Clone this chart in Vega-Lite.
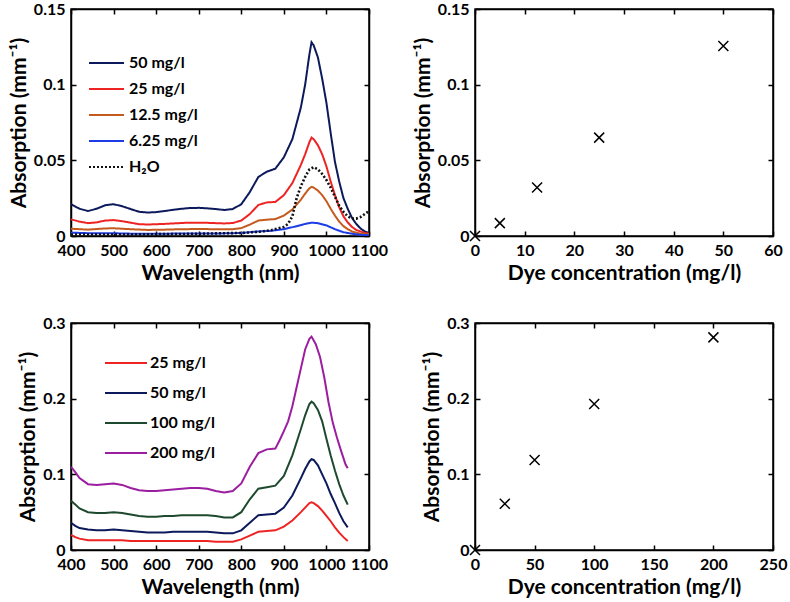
{
  "$schema": "https://vega.github.io/schema/vega-lite/v6.json",
  "padding": {"left": 7, "top": 0, "right": 0, "bottom": 0},
  "background": "white",
  "config": {
    "font": "Lato",
    "view": {"stroke": "black", "strokeWidth": 1.5},
    "axis": {
      "grid": false,
      "domainColor": "black", "domainWidth": 1.5,
      "tickColor": "black", "tickWidth": 1.5, "tickSize": -5,
      "labelFont": "Lato", "labelFontSize": 16, "labelFontWeight": "bold", "labelColor": "black", "labelPadding": 11,
      "labelFlush": false, "labelOverlap": false, "labelExpr": "toString(datum.value)",
      "titleFont": "Lato", "titleFontSize": 21, "titleFontWeight": "bold", "titleColor": "black", "titlePadding": 4
    },
    "legend": {
      "labelFont": "Lato", "labelFontSize": 16, "labelFontWeight": "bold", "labelColor": "black",
      "symbolType": "stroke", "symbolStrokeWidth": 2, "symbolSize": 1225, "clipHeight": 20, "rowPadding": 6, "padding": 0
    }
  },
  "datasets": {
    "specA": [
      {"s":"50 mg/l","w":400,"a":0.021},{"s":"50 mg/l","w":420,"a":0.018},{"s":"50 mg/l","w":440,"a":0.0165},{"s":"50 mg/l","w":460,"a":0.018},{"s":"50 mg/l","w":480,"a":0.0203},{"s":"50 mg/l","w":500,"a":0.021},{"s":"50 mg/l","w":520,"a":0.0197},{"s":"50 mg/l","w":540,"a":0.0178},{"s":"50 mg/l","w":560,"a":0.016},{"s":"50 mg/l","w":580,"a":0.0155},{"s":"50 mg/l","w":600,"a":0.0158},{"s":"50 mg/l","w":620,"a":0.0165},{"s":"50 mg/l","w":640,"a":0.0173},{"s":"50 mg/l","w":660,"a":0.018},{"s":"50 mg/l","w":680,"a":0.0185},{"s":"50 mg/l","w":700,"a":0.0186},{"s":"50 mg/l","w":720,"a":0.0183},{"s":"50 mg/l","w":740,"a":0.0178},{"s":"50 mg/l","w":760,"a":0.0172},{"s":"50 mg/l","w":780,"a":0.0178},{"s":"50 mg/l","w":800,"a":0.021},{"s":"50 mg/l","w":820,"a":0.029},{"s":"50 mg/l","w":840,"a":0.039},{"s":"50 mg/l","w":860,"a":0.0425},{"s":"50 mg/l","w":880,"a":0.0445},{"s":"50 mg/l","w":900,"a":0.052},{"s":"50 mg/l","w":920,"a":0.064},{"s":"50 mg/l","w":940,"a":0.085},{"s":"50 mg/l","w":950,"a":0.1},{"s":"50 mg/l","w":955,"a":0.11},{"s":"50 mg/l","w":960,"a":0.12},{"s":"50 mg/l","w":965,"a":0.128},{"s":"50 mg/l","w":970,"a":0.126},{"s":"50 mg/l","w":980,"a":0.118},{"s":"50 mg/l","w":990,"a":0.104},{"s":"50 mg/l","w":1000,"a":0.088},{"s":"50 mg/l","w":1010,"a":0.068},{"s":"50 mg/l","w":1020,"a":0.049},{"s":"50 mg/l","w":1030,"a":0.036},{"s":"50 mg/l","w":1040,"a":0.025},{"s":"50 mg/l","w":1050,"a":0.018},{"s":"50 mg/l","w":1060,"a":0.012},{"s":"50 mg/l","w":1070,"a":0.008},{"s":"50 mg/l","w":1080,"a":0.005},{"s":"50 mg/l","w":1090,"a":0.003},{"s":"50 mg/l","w":1100,"a":0.002},
      {"s":"25 mg/l","w":400,"a":0.011},{"s":"25 mg/l","w":420,"a":0.0095},{"s":"25 mg/l","w":440,"a":0.0085},{"s":"25 mg/l","w":460,"a":0.009},{"s":"25 mg/l","w":480,"a":0.0102},{"s":"25 mg/l","w":500,"a":0.0105},{"s":"25 mg/l","w":520,"a":0.0098},{"s":"25 mg/l","w":540,"a":0.0088},{"s":"25 mg/l","w":560,"a":0.0078},{"s":"25 mg/l","w":580,"a":0.0076},{"s":"25 mg/l","w":600,"a":0.0078},{"s":"25 mg/l","w":620,"a":0.008},{"s":"25 mg/l","w":640,"a":0.0083},{"s":"25 mg/l","w":660,"a":0.0086},{"s":"25 mg/l","w":680,"a":0.0088},{"s":"25 mg/l","w":700,"a":0.0088},{"s":"25 mg/l","w":720,"a":0.0087},{"s":"25 mg/l","w":740,"a":0.0085},{"s":"25 mg/l","w":760,"a":0.0083},{"s":"25 mg/l","w":780,"a":0.0086},{"s":"25 mg/l","w":800,"a":0.0102},{"s":"25 mg/l","w":820,"a":0.0145},{"s":"25 mg/l","w":840,"a":0.0205},{"s":"25 mg/l","w":860,"a":0.0222},{"s":"25 mg/l","w":880,"a":0.0225},{"s":"25 mg/l","w":900,"a":0.027},{"s":"25 mg/l","w":920,"a":0.035},{"s":"25 mg/l","w":940,"a":0.047},{"s":"25 mg/l","w":950,"a":0.054},{"s":"25 mg/l","w":960,"a":0.062},{"s":"25 mg/l","w":965,"a":0.065},{"s":"25 mg/l","w":970,"a":0.064},{"s":"25 mg/l","w":980,"a":0.06},{"s":"25 mg/l","w":990,"a":0.054},{"s":"25 mg/l","w":1000,"a":0.046},{"s":"25 mg/l","w":1010,"a":0.036},{"s":"25 mg/l","w":1020,"a":0.027},{"s":"25 mg/l","w":1030,"a":0.019},{"s":"25 mg/l","w":1040,"a":0.013},{"s":"25 mg/l","w":1050,"a":0.009},{"s":"25 mg/l","w":1060,"a":0.006},{"s":"25 mg/l","w":1070,"a":0.004},{"s":"25 mg/l","w":1080,"a":0.003},{"s":"25 mg/l","w":1090,"a":0.002},{"s":"25 mg/l","w":1100,"a":0.0015},
      {"s":"12.5 mg/l","w":400,"a":0.0048},{"s":"12.5 mg/l","w":440,"a":0.0042},{"s":"12.5 mg/l","w":480,"a":0.005},{"s":"12.5 mg/l","w":500,"a":0.0051},{"s":"12.5 mg/l","w":540,"a":0.0045},{"s":"12.5 mg/l","w":580,"a":0.004},{"s":"12.5 mg/l","w":620,"a":0.0042},{"s":"12.5 mg/l","w":660,"a":0.0045},{"s":"12.5 mg/l","w":700,"a":0.0046},{"s":"12.5 mg/l","w":740,"a":0.0045},{"s":"12.5 mg/l","w":780,"a":0.0045},{"s":"12.5 mg/l","w":800,"a":0.0052},{"s":"12.5 mg/l","w":820,"a":0.0075},{"s":"12.5 mg/l","w":840,"a":0.0102},{"s":"12.5 mg/l","w":860,"a":0.0108},{"s":"12.5 mg/l","w":880,"a":0.0112},{"s":"12.5 mg/l","w":900,"a":0.0135},{"s":"12.5 mg/l","w":920,"a":0.0175},{"s":"12.5 mg/l","w":940,"a":0.024},{"s":"12.5 mg/l","w":950,"a":0.028},{"s":"12.5 mg/l","w":960,"a":0.0315},{"s":"12.5 mg/l","w":965,"a":0.0325},{"s":"12.5 mg/l","w":970,"a":0.032},{"s":"12.5 mg/l","w":980,"a":0.03},{"s":"12.5 mg/l","w":990,"a":0.027},{"s":"12.5 mg/l","w":1000,"a":0.023},{"s":"12.5 mg/l","w":1010,"a":0.018},{"s":"12.5 mg/l","w":1020,"a":0.0135},{"s":"12.5 mg/l","w":1030,"a":0.0095},{"s":"12.5 mg/l","w":1040,"a":0.0065},{"s":"12.5 mg/l","w":1050,"a":0.0045},{"s":"12.5 mg/l","w":1060,"a":0.003},{"s":"12.5 mg/l","w":1080,"a":0.0015},{"s":"12.5 mg/l","w":1100,"a":0.001},
      {"s":"6.25 mg/l","w":400,"a":0.0022},{"s":"6.25 mg/l","w":450,"a":0.0018},{"s":"6.25 mg/l","w":500,"a":0.0018},{"s":"6.25 mg/l","w":550,"a":0.0015},{"s":"6.25 mg/l","w":600,"a":0.0015},{"s":"6.25 mg/l","w":650,"a":0.0016},{"s":"6.25 mg/l","w":700,"a":0.0017},{"s":"6.25 mg/l","w":750,"a":0.0017},{"s":"6.25 mg/l","w":800,"a":0.002},{"s":"6.25 mg/l","w":840,"a":0.003},{"s":"6.25 mg/l","w":870,"a":0.0034},{"s":"6.25 mg/l","w":900,"a":0.0045},{"s":"6.25 mg/l","w":930,"a":0.0065},{"s":"6.25 mg/l","w":950,"a":0.008},{"s":"6.25 mg/l","w":965,"a":0.0088},{"s":"6.25 mg/l","w":980,"a":0.0085},{"s":"6.25 mg/l","w":1000,"a":0.007},{"s":"6.25 mg/l","w":1020,"a":0.0045},{"s":"6.25 mg/l","w":1040,"a":0.0025},{"s":"6.25 mg/l","w":1060,"a":0.0015},{"s":"6.25 mg/l","w":1080,"a":0.0008},{"s":"6.25 mg/l","w":1100,"a":0.0005},
      {"s":"H₂O","w":400,"a":0.001},{"s":"H₂O","w":450,"a":0.001},{"s":"H₂O","w":500,"a":0.001},{"s":"H₂O","w":550,"a":0.001},{"s":"H₂O","w":600,"a":0.0012},{"s":"H₂O","w":650,"a":0.0013},{"s":"H₂O","w":700,"a":0.0015},{"s":"H₂O","w":750,"a":0.0018},{"s":"H₂O","w":800,"a":0.002},{"s":"H₂O","w":840,"a":0.0028},{"s":"H₂O","w":870,"a":0.0038},{"s":"H₂O","w":900,"a":0.006},{"s":"H₂O","w":910,"a":0.008},{"s":"H₂O","w":920,"a":0.013},{"s":"H₂O","w":930,"a":0.025},{"s":"H₂O","w":940,"a":0.033},{"s":"H₂O","w":950,"a":0.039},{"s":"H₂O","w":960,"a":0.044},{"s":"H₂O","w":970,"a":0.0455},{"s":"H₂O","w":980,"a":0.044},{"s":"H₂O","w":990,"a":0.041},{"s":"H₂O","w":1000,"a":0.037},{"s":"H₂O","w":1010,"a":0.032},{"s":"H₂O","w":1020,"a":0.026},{"s":"H₂O","w":1030,"a":0.02},{"s":"H₂O","w":1040,"a":0.016},{"s":"H₂O","w":1050,"a":0.013},{"s":"H₂O","w":1060,"a":0.0115},{"s":"H₂O","w":1070,"a":0.0115},{"s":"H₂O","w":1080,"a":0.0125},{"s":"H₂O","w":1090,"a":0.0145},{"s":"H₂O","w":1100,"a":0.0165}
    ],
    "specC": [
      {"s":"200 mg/l","w":400,"a":0.11},{"s":"200 mg/l","w":410,"a":0.103},{"s":"200 mg/l","w":420,"a":0.095},{"s":"200 mg/l","w":440,"a":0.087},{"s":"200 mg/l","w":460,"a":0.086},{"s":"200 mg/l","w":480,"a":0.087},{"s":"200 mg/l","w":500,"a":0.088},{"s":"200 mg/l","w":520,"a":0.086},{"s":"200 mg/l","w":540,"a":0.082},{"s":"200 mg/l","w":560,"a":0.079},{"s":"200 mg/l","w":580,"a":0.078},{"s":"200 mg/l","w":600,"a":0.078},{"s":"200 mg/l","w":620,"a":0.079},{"s":"200 mg/l","w":640,"a":0.08},{"s":"200 mg/l","w":660,"a":0.081},{"s":"200 mg/l","w":680,"a":0.082},{"s":"200 mg/l","w":700,"a":0.082},{"s":"200 mg/l","w":720,"a":0.081},{"s":"200 mg/l","w":740,"a":0.078},{"s":"200 mg/l","w":760,"a":0.076},{"s":"200 mg/l","w":780,"a":0.078},{"s":"200 mg/l","w":800,"a":0.088},{"s":"200 mg/l","w":820,"a":0.11},{"s":"200 mg/l","w":840,"a":0.128},{"s":"200 mg/l","w":860,"a":0.133},{"s":"200 mg/l","w":880,"a":0.134},{"s":"200 mg/l","w":890,"a":0.145},{"s":"200 mg/l","w":900,"a":0.157},{"s":"200 mg/l","w":910,"a":0.17},{"s":"200 mg/l","w":920,"a":0.19},{"s":"200 mg/l","w":930,"a":0.215},{"s":"200 mg/l","w":940,"a":0.24},{"s":"200 mg/l","w":950,"a":0.265},{"s":"200 mg/l","w":960,"a":0.279},{"s":"200 mg/l","w":965,"a":0.282},{"s":"200 mg/l","w":975,"a":0.272},{"s":"200 mg/l","w":985,"a":0.255},{"s":"200 mg/l","w":995,"a":0.228},{"s":"200 mg/l","w":1005,"a":0.195},{"s":"200 mg/l","w":1015,"a":0.168},{"s":"200 mg/l","w":1025,"a":0.148},{"s":"200 mg/l","w":1035,"a":0.13},{"s":"200 mg/l","w":1045,"a":0.113},{"s":"200 mg/l","w":1050,"a":0.108},
      {"s":"100 mg/l","w":400,"a":0.065},{"s":"100 mg/l","w":410,"a":0.06},{"s":"100 mg/l","w":420,"a":0.055},{"s":"100 mg/l","w":440,"a":0.05},{"s":"100 mg/l","w":460,"a":0.049},{"s":"100 mg/l","w":480,"a":0.049},{"s":"100 mg/l","w":500,"a":0.05},{"s":"100 mg/l","w":520,"a":0.049},{"s":"100 mg/l","w":540,"a":0.047},{"s":"100 mg/l","w":560,"a":0.045},{"s":"100 mg/l","w":580,"a":0.044},{"s":"100 mg/l","w":600,"a":0.044},{"s":"100 mg/l","w":620,"a":0.045},{"s":"100 mg/l","w":640,"a":0.045},{"s":"100 mg/l","w":660,"a":0.046},{"s":"100 mg/l","w":680,"a":0.046},{"s":"100 mg/l","w":700,"a":0.046},{"s":"100 mg/l","w":720,"a":0.046},{"s":"100 mg/l","w":740,"a":0.045},{"s":"100 mg/l","w":760,"a":0.043},{"s":"100 mg/l","w":780,"a":0.043},{"s":"100 mg/l","w":800,"a":0.05},{"s":"100 mg/l","w":820,"a":0.067},{"s":"100 mg/l","w":840,"a":0.081},{"s":"100 mg/l","w":860,"a":0.083},{"s":"100 mg/l","w":880,"a":0.085},{"s":"100 mg/l","w":900,"a":0.098},{"s":"100 mg/l","w":920,"a":0.125},{"s":"100 mg/l","w":940,"a":0.16},{"s":"100 mg/l","w":950,"a":0.178},{"s":"100 mg/l","w":960,"a":0.193},{"s":"100 mg/l","w":965,"a":0.196},{"s":"100 mg/l","w":970,"a":0.194},{"s":"100 mg/l","w":980,"a":0.185},{"s":"100 mg/l","w":990,"a":0.17},{"s":"100 mg/l","w":1000,"a":0.147},{"s":"100 mg/l","w":1010,"a":0.125},{"s":"100 mg/l","w":1020,"a":0.105},{"s":"100 mg/l","w":1030,"a":0.087},{"s":"100 mg/l","w":1040,"a":0.072},{"s":"100 mg/l","w":1050,"a":0.06},
      {"s":"50 mg/l","w":400,"a":0.036},{"s":"50 mg/l","w":410,"a":0.032},{"s":"50 mg/l","w":420,"a":0.029},{"s":"50 mg/l","w":440,"a":0.027},{"s":"50 mg/l","w":460,"a":0.026},{"s":"50 mg/l","w":480,"a":0.026},{"s":"50 mg/l","w":500,"a":0.027},{"s":"50 mg/l","w":520,"a":0.026},{"s":"50 mg/l","w":540,"a":0.025},{"s":"50 mg/l","w":560,"a":0.024},{"s":"50 mg/l","w":580,"a":0.023},{"s":"50 mg/l","w":600,"a":0.023},{"s":"50 mg/l","w":620,"a":0.023},{"s":"50 mg/l","w":640,"a":0.024},{"s":"50 mg/l","w":660,"a":0.024},{"s":"50 mg/l","w":680,"a":0.024},{"s":"50 mg/l","w":700,"a":0.024},{"s":"50 mg/l","w":720,"a":0.024},{"s":"50 mg/l","w":740,"a":0.023},{"s":"50 mg/l","w":760,"a":0.022},{"s":"50 mg/l","w":780,"a":0.022},{"s":"50 mg/l","w":800,"a":0.026},{"s":"50 mg/l","w":820,"a":0.036},{"s":"50 mg/l","w":840,"a":0.046},{"s":"50 mg/l","w":860,"a":0.047},{"s":"50 mg/l","w":880,"a":0.048},{"s":"50 mg/l","w":900,"a":0.056},{"s":"50 mg/l","w":920,"a":0.072},{"s":"50 mg/l","w":940,"a":0.095},{"s":"50 mg/l","w":950,"a":0.107},{"s":"50 mg/l","w":960,"a":0.117},{"s":"50 mg/l","w":965,"a":0.12},{"s":"50 mg/l","w":970,"a":0.119},{"s":"50 mg/l","w":980,"a":0.112},{"s":"50 mg/l","w":990,"a":0.1},{"s":"50 mg/l","w":1000,"a":0.088},{"s":"50 mg/l","w":1010,"a":0.074},{"s":"50 mg/l","w":1020,"a":0.062},{"s":"50 mg/l","w":1030,"a":0.049},{"s":"50 mg/l","w":1040,"a":0.038},{"s":"50 mg/l","w":1050,"a":0.03},
      {"s":"25 mg/l","w":400,"a":0.02},{"s":"25 mg/l","w":410,"a":0.017},{"s":"25 mg/l","w":420,"a":0.015},{"s":"25 mg/l","w":440,"a":0.013},{"s":"25 mg/l","w":460,"a":0.013},{"s":"25 mg/l","w":480,"a":0.013},{"s":"25 mg/l","w":500,"a":0.013},{"s":"25 mg/l","w":520,"a":0.013},{"s":"25 mg/l","w":540,"a":0.012},{"s":"25 mg/l","w":560,"a":0.012},{"s":"25 mg/l","w":580,"a":0.012},{"s":"25 mg/l","w":600,"a":0.012},{"s":"25 mg/l","w":620,"a":0.012},{"s":"25 mg/l","w":640,"a":0.012},{"s":"25 mg/l","w":660,"a":0.012},{"s":"25 mg/l","w":680,"a":0.012},{"s":"25 mg/l","w":700,"a":0.012},{"s":"25 mg/l","w":720,"a":0.012},{"s":"25 mg/l","w":740,"a":0.011},{"s":"25 mg/l","w":760,"a":0.011},{"s":"25 mg/l","w":780,"a":0.011},{"s":"25 mg/l","w":800,"a":0.014},{"s":"25 mg/l","w":820,"a":0.019},{"s":"25 mg/l","w":840,"a":0.024},{"s":"25 mg/l","w":860,"a":0.025},{"s":"25 mg/l","w":880,"a":0.026},{"s":"25 mg/l","w":900,"a":0.031},{"s":"25 mg/l","w":920,"a":0.039},{"s":"25 mg/l","w":940,"a":0.05},{"s":"25 mg/l","w":950,"a":0.056},{"s":"25 mg/l","w":960,"a":0.062},{"s":"25 mg/l","w":965,"a":0.063},{"s":"25 mg/l","w":970,"a":0.062},{"s":"25 mg/l","w":980,"a":0.058},{"s":"25 mg/l","w":990,"a":0.052},{"s":"25 mg/l","w":1000,"a":0.045},{"s":"25 mg/l","w":1010,"a":0.038},{"s":"25 mg/l","w":1020,"a":0.03},{"s":"25 mg/l","w":1030,"a":0.023},{"s":"25 mg/l","w":1040,"a":0.017},{"s":"25 mg/l","w":1050,"a":0.012}
    ],
    "concB": [{"c":0,"a":0},{"c":5,"a":0.0085},{"c":12.5,"a":0.032},{"c":25,"a":0.065},{"c":50,"a":0.1255}],
    "concD": [{"c":0,"a":0},{"c":25,"a":0.061},{"c":50,"a":0.119},{"c":100,"a":0.193},{"c":200,"a":0.281}]
  },
  "columns": 2,
  "spacing": {"row": 30, "column": 22},
  "resolve": {"scale": {"color": "independent", "strokeDash": "independent"}, "legend": {"color": "independent", "strokeDash": "independent"}},
  "concat": [
    {
      "width": 298, "height": 227,
      "layer": [
        {
          "data": {"name": "specA"},
          "transform": [{"filter": "datum.s !== 'H₂O'"}],
          "mark": {"type": "line", "strokeWidth": 2, "clip": true},
          "encoding": {
            "x": {"field": "w", "type": "quantitative", "scale": {"domain": [400, 1100], "nice": false}, "axis": {"values": [400,500,600,700,800,900,1000,1100], "title": "Wavelength (nm)", "orient": "bottom"}},
            "y": {"field": "a", "type": "quantitative", "scale": {"domain": [0, 0.15], "nice": false}, "axis": {"values": [0,0.05,0.1,0.15], "title": "Absorption (mm⁻¹)", "orient": "left"}},
            "color": {"field": "s", "type": "nominal", "scale": {"domain": ["50 mg/l","25 mg/l","12.5 mg/l","6.25 mg/l","H₂O"], "range": ["#0c1a5c","#ee2424","#c55a1e","#1c3ce6","#111111"]}, "legend": {"title": null, "orient": "none", "legendX": 17, "legendY": 44}},
            "strokeDash": {"field": "s", "type": "nominal", "scale": {"domain": ["50 mg/l","25 mg/l","12.5 mg/l","6.25 mg/l","H₂O"], "range": [[1,0],[1,0],[1,0],[1,0],[2,2]]}, "legend": {"title": null, "orient": "none", "legendX": 17, "legendY": 44}}
          }
        },
        {
          "data": {"name": "specA"},
          "transform": [{"filter": "datum.s === 'H₂O'"}],
          "mark": {"type": "line", "strokeWidth": 2.6, "clip": true},
          "encoding": {
            "x": {"field": "w", "type": "quantitative", "axis": null},
            "y": {"field": "a", "type": "quantitative", "axis": null},
            "color": {"field": "s", "type": "nominal"},
            "strokeDash": {"field": "s", "type": "nominal"}
          }
        },
        {
          "mark": {"type": "text", "text": "(a)", "font": "Lato", "fontSize": 21, "align": "left", "baseline": "middle", "color": "black"},
          "encoding": {
            "x": {"datum": 442, "type": "quantitative", "axis": {"orient": "top", "labels": false, "title": null, "values": [400,500,600,700,800,900,1000,1100]}},
            "y": {"datum": 0.135, "type": "quantitative", "axis": {"orient": "right", "labels": false, "title": null, "values": [0,0.05,0.1,0.15]}}
          }
        }
      ],
      "resolve": {"axis": {"x": "independent", "y": "independent"}}
    },
    {
      "width": 298, "height": 227,
      "layer": [
        {
          "data": {"name": "concB"},
          "mark": {"type": "point", "shape": "M-1,-1L1,1M-1,1L1,-1", "size": 100, "strokeWidth": 1.5, "color": "black", "opacity": 1},
          "encoding": {
            "x": {"field": "c", "type": "quantitative", "scale": {"domain": [0, 60], "nice": false}, "axis": {"values": [0,10,20,30,40,50,60], "title": "Dye concentration (mg/l)", "orient": "bottom"}},
            "y": {"field": "a", "type": "quantitative", "scale": {"domain": [0, 0.15], "nice": false}, "axis": {"values": [0,0.05,0.1,0.15], "title": "Absorption (mm⁻¹)", "orient": "left"}}
          }
        },
        {
          "mark": {"type": "text", "text": "(b)", "font": "Lato", "fontSize": 21, "align": "left", "baseline": "middle", "color": "black"},
          "encoding": {
            "x": {"datum": 2.4, "type": "quantitative", "axis": {"orient": "top", "labels": false, "title": null, "values": [0,10,20,30,40,50,60]}},
            "y": {"datum": 0.135, "type": "quantitative", "axis": {"orient": "right", "labels": false, "title": null, "values": [0,0.05,0.1,0.15]}}
          }
        }
      ],
      "resolve": {"axis": {"x": "independent", "y": "independent"}}
    },
    {
      "width": 298, "height": 227,
      "layer": [
        {
          "data": {"name": "specC"},
          "mark": {"type": "line", "strokeWidth": 2, "clip": true},
          "encoding": {
            "x": {"field": "w", "type": "quantitative", "scale": {"domain": [400, 1100], "nice": false}, "axis": {"values": [400,500,600,700,800,900,1000,1100], "title": "Wavelength (nm)", "orient": "bottom"}},
            "y": {"field": "a", "type": "quantitative", "scale": {"domain": [0, 0.3], "nice": false}, "axis": {"values": [0,0.1,0.2,0.3], "title": "Absorption (mm⁻¹)", "orient": "left"}},
            "color": {"field": "s", "type": "nominal", "scale": {"domain": ["25 mg/l","50 mg/l","100 mg/l","200 mg/l"], "range": ["#ee2424","#0c1a5c","#1d4a2e","#9c1ea0"]}, "legend": {"title": null, "orient": "none", "legendX": 33, "legendY": 30, "symbolSize": 1764, "rowPadding": 10, "labelOffset": 2}}
          }
        },
        {
          "mark": {"type": "text", "text": "(c)", "font": "Lato", "fontSize": 21, "align": "left", "baseline": "middle", "color": "black"},
          "encoding": {
            "x": {"datum": 440, "type": "quantitative", "axis": {"orient": "top", "labels": false, "title": null, "values": [400,500,600,700,800,900,1000,1100]}},
            "y": {"datum": 0.272, "type": "quantitative", "axis": {"orient": "right", "labels": false, "title": null, "values": [0,0.1,0.2,0.3]}}
          }
        }
      ],
      "resolve": {"axis": {"x": "independent", "y": "independent"}}
    },
    {
      "width": 298, "height": 227,
      "layer": [
        {
          "data": {"name": "concD"},
          "mark": {"type": "point", "shape": "M-1,-1L1,1M-1,1L1,-1", "size": 100, "strokeWidth": 1.5, "color": "black", "opacity": 1},
          "encoding": {
            "x": {"field": "c", "type": "quantitative", "scale": {"domain": [0, 250], "nice": false}, "axis": {"values": [0,50,100,150,200,250], "title": "Dye concentration (mg/l)", "orient": "bottom"}},
            "y": {"field": "a", "type": "quantitative", "scale": {"domain": [0, 0.3], "nice": false}, "axis": {"values": [0,0.1,0.2,0.3], "title": "Absorption (mm⁻¹)", "orient": "left"}}
          }
        },
        {
          "mark": {"type": "text", "text": "(d)", "font": "Lato", "fontSize": 21, "align": "left", "baseline": "middle", "color": "black"},
          "encoding": {
            "x": {"datum": 10, "type": "quantitative", "axis": {"orient": "top", "labels": false, "title": null, "values": [0,50,100,150,200,250]}},
            "y": {"datum": 0.273, "type": "quantitative", "axis": {"orient": "right", "labels": false, "title": null, "values": [0,0.1,0.2,0.3]}}
          }
        }
      ],
      "resolve": {"axis": {"x": "independent", "y": "independent"}}
    }
  ]
}
